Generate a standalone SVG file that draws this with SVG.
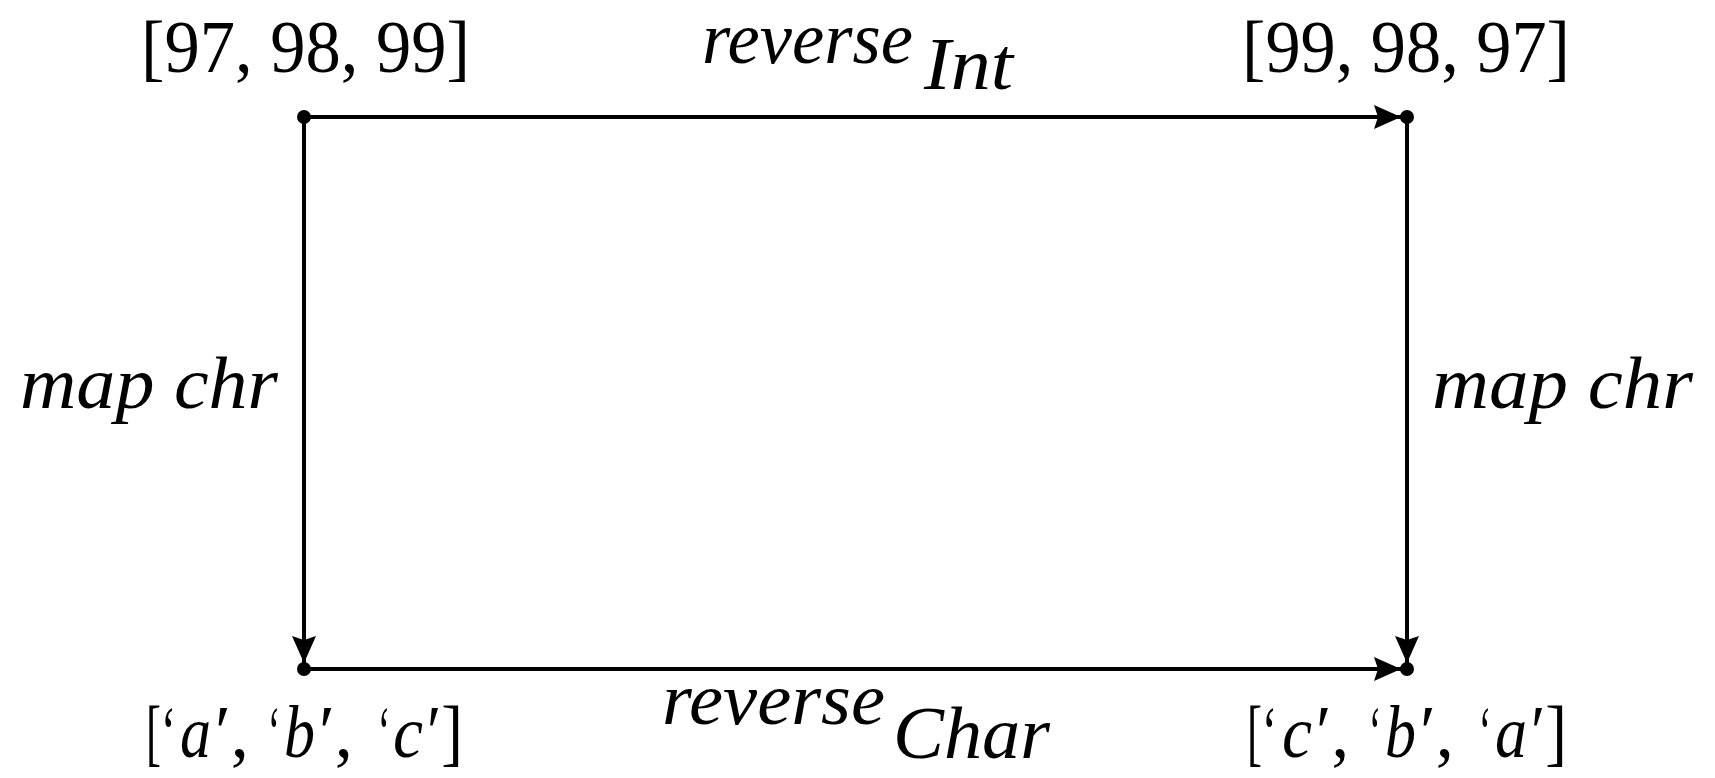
<svg xmlns="http://www.w3.org/2000/svg" width="1715" height="778" viewBox="0 0 1715 778">
<style>
  .t { font-family: "Liberation Serif", "Times New Roman", serif; fill: #000; }
  .lab { font-size: 74px; font-style: italic; }
  .node { font-size: 75px; }
  .it { font-style: italic; }
  .edge { stroke: #000; stroke-width: 4; fill: none; }
  .dot { fill: #000; }
</style>
<defs>
  <marker id="arr" markerUnits="userSpaceOnUse" markerWidth="28" markerHeight="24" refX="27" refY="12" orient="auto">
    <polygon points="0,0 27,12 0,24 4,12" fill="#000"/>
  </marker>
</defs>
<rect width="1715" height="778" fill="#fff"/>
<g id="connectors">
  <line class="edge" x1="304" y1="117" x2="1401" y2="117" marker-end="url(#arr)"/>
  <line class="edge" x1="304" y1="669" x2="1401" y2="669" marker-end="url(#arr)"/>
  <line class="edge" x1="304" y1="117" x2="304" y2="663" marker-end="url(#arr)"/>
  <line class="edge" x1="1407" y1="117" x2="1407" y2="663" marker-end="url(#arr)"/>
  <text class="t lab" x="702" y="63" textLength="211" lengthAdjust="spacingAndGlyphs">reverse</text>
  <text class="t lab" x="924" y="89" font-size="76" textLength="89" lengthAdjust="spacingAndGlyphs">Int</text>
  <text class="t lab" x="662" y="724" textLength="223" lengthAdjust="spacingAndGlyphs">reverse</text>
  <text class="t lab" x="893" y="758" font-size="76" textLength="157" lengthAdjust="spacingAndGlyphs">Char</text>
  <text class="t lab" x="20" y="408" textLength="258" lengthAdjust="spacingAndGlyphs">map chr</text>
  <text class="t lab" x="1432" y="408" textLength="261" lengthAdjust="spacingAndGlyphs">map chr</text>
</g>
<g id="n1">
  <circle class="dot" cx="304" cy="117" r="7"/>
  <text class="t node" x="141" y="72" textLength="329" lengthAdjust="spacingAndGlyphs">[97, 98, 99]</text>
</g>
<g id="n2">
  <circle class="dot" cx="1407" cy="117" r="7"/>
  <text class="t node" x="1242" y="72" textLength="328" lengthAdjust="spacingAndGlyphs">[99, 98, 97]</text>
</g>
<g id="n3">
  <circle class="dot" cx="304" cy="669" r="7"/>
  <text class="t node" x="146" y="757" textLength="30" lengthAdjust="spacingAndGlyphs">[‘</text>
  <text class="t node it" x="180" y="757" textLength="31" lengthAdjust="spacingAndGlyphs">a</text>
  <text class="t node" x="215" y="757" textLength="34" lengthAdjust="spacingAndGlyphs">′,</text>
  <text class="t node" x="268" y="757" textLength="12" lengthAdjust="spacingAndGlyphs">‘</text>
  <text class="t node it" x="284" y="757" textLength="31" lengthAdjust="spacingAndGlyphs">b</text>
  <text class="t node" x="319" y="757" textLength="34" lengthAdjust="spacingAndGlyphs">′,</text>
  <text class="t node" x="378" y="757" textLength="12" lengthAdjust="spacingAndGlyphs">‘</text>
  <text class="t node it" x="393" y="757" textLength="30" lengthAdjust="spacingAndGlyphs">c</text>
  <text class="t node" x="427" y="757" textLength="36" lengthAdjust="spacingAndGlyphs">′]</text>
</g>
<g id="n4">
  <circle class="dot" cx="1407" cy="669" r="7"/>
  <text class="t node" x="1247" y="757" textLength="30" lengthAdjust="spacingAndGlyphs">[‘</text>
  <text class="t node it" x="1282" y="757" textLength="30" lengthAdjust="spacingAndGlyphs">c</text>
  <text class="t node" x="1316" y="757" textLength="33" lengthAdjust="spacingAndGlyphs">′,</text>
  <text class="t node" x="1369" y="757" textLength="12" lengthAdjust="spacingAndGlyphs">‘</text>
  <text class="t node it" x="1385" y="757" textLength="31" lengthAdjust="spacingAndGlyphs">b</text>
  <text class="t node" x="1420" y="757" textLength="34" lengthAdjust="spacingAndGlyphs">′,</text>
  <text class="t node" x="1479" y="757" textLength="12" lengthAdjust="spacingAndGlyphs">‘</text>
  <text class="t node it" x="1495" y="757" textLength="32" lengthAdjust="spacingAndGlyphs">a</text>
  <text class="t node" x="1531" y="757" textLength="36" lengthAdjust="spacingAndGlyphs">′]</text>
</g>
</svg>
